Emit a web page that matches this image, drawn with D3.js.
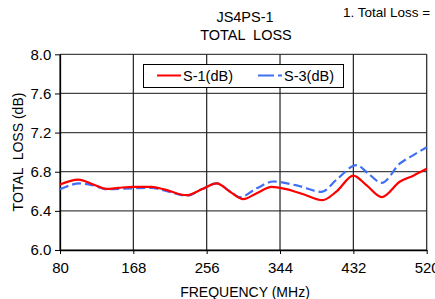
<!DOCTYPE html>
<html><head><meta charset="utf-8">
<script src="https://cdn.jsdelivr.net/npm/d3@7"></script>
<style>body{margin:0;background:#fff;overflow:hidden}svg{display:block}text{font-family:"Liberation Sans",Arial,sans-serif;fill:#000}</style>
</head><body>
<svg id="c" width="435" height="299"></svg>
<script>
const xTicks = [80, 168, 256, 344, 432, 520];
const yTicks = [6.0, 6.4, 6.8, 7.2, 7.6, 8.0];
const freqS1 = [80, 102, 120, 136, 150, 168, 190, 205, 232, 250, 268, 284, 300, 316, 334, 350, 372, 395, 412, 432, 448, 466, 488, 504, 520];
const lossS1 = [6.67, 6.72, 6.67, 6.625, 6.635, 6.645, 6.645, 6.62, 6.56, 6.62, 6.68, 6.595, 6.52, 6.58, 6.645, 6.625, 6.57, 6.51, 6.6, 6.76, 6.66, 6.54, 6.70, 6.76, 6.83];
const freqS3 = [80, 104, 120, 136, 150, 168, 190, 205, 232, 250, 268, 284, 296, 316, 336, 364, 394, 412, 436, 450, 466, 488, 504, 520];
const lossS3 = [6.62, 6.68, 6.66, 6.62, 6.625, 6.63, 6.635, 6.61, 6.555, 6.62, 6.68, 6.60, 6.54, 6.63, 6.70, 6.66, 6.595, 6.72, 6.867, 6.78, 6.687, 6.885, 6.97, 7.05];
const seriesNames = ["S-1(dB)", "S-3(dB)"];

const svg = d3.select("#c");
const x = d3.scaleLinear().domain([80, 520]).range([60, 426.7]);
const y = d3.scaleLinear().domain([6.0, 8.0]).range([250, 54.3]);

// gridlines
svg.append("g").selectAll("line").data(yTicks).join("line")
  .attr("x1", x(80)).attr("x2", x(520)).attr("y1", d => y(d)).attr("y2", d => y(d))
  .attr("stroke", "#444").attr("stroke-width", 1.2);
svg.append("g").selectAll("line").data(xTicks).join("line")
  .attr("y1", y(6)).attr("y2", y(8)).attr("x1", d => x(d)).attr("x2", d => x(d))
  .attr("stroke", "#222").attr("stroke-width", 1.2);

// axes
const ax = svg.append("g").attr("transform", `translate(0,${y(6)})`)
  .call(d3.axisBottom(x).tickValues(xTicks).tickFormat(d3.format("d")).tickSize(4).tickSizeOuter(0));
const ay = svg.append("g").attr("transform", `translate(${x(80)},0)`)
  .call(d3.axisLeft(y).tickValues(yTicks).tickFormat(d3.format(".1f")).tickSize(5).tickSizeOuter(0));
[ax, ay].forEach(g => {
  g.select(".domain").attr("stroke", "#000").attr("stroke-width", 1.3);
  g.selectAll(".tick line").attr("stroke", "#000");
  g.selectAll("text").attr("font-size", 15).attr("font-family", '"Liberation Sans",Arial,sans-serif');
});
ax.selectAll("text").attr("dy", "1.05em");
ay.selectAll("text").attr("dx", "-0.05em");

// lines
const line = d3.line().x(d => x(d[0])).y(d => y(d[1])).curve(d3.curveMonotoneX);
svg.append("path").datum(d3.zip(freqS3, lossS3)).attr("d", line)
  .attr("fill", "none").attr("stroke", "#3f6ff5").attr("stroke-width", 2.2).attr("stroke-dasharray", "9,4");
svg.append("path").datum(d3.zip(freqS1, lossS1)).attr("d", line)
  .attr("fill", "none").attr("stroke", "#ff0000").attr("stroke-width", 2.2);

// legend
svg.append("rect").attr("x", 143.5).attr("y", 64.5).attr("width", 200).attr("height", 23)
  .attr("fill", "#fff").attr("stroke", "#000").attr("stroke-width", 1);
svg.append("line").attr("x1", 157).attr("x2", 181).attr("y1", 75.5).attr("y2", 75.5).attr("stroke", "#ff0000").attr("stroke-width", 2);
svg.append("text").attr("x", 183).attr("y", 81).attr("font-size", 14.5).text(seriesNames[0]);
svg.append("line").attr("x1", 258).attr("x2", 282).attr("y1", 75.5).attr("y2", 75.5).attr("stroke", "#3f6ff5").attr("stroke-width", 2).attr("stroke-dasharray", "16,4");
svg.append("text").attr("x", 284).attr("y", 81).attr("font-size", 14.5).text(seriesNames[1]);

// titles
svg.append("text").attr("x", 245).attr("y", 22).attr("text-anchor", "middle").attr("font-size", 14.5).text("JS4PS-1");
svg.append("text").attr("x", 246).attr("y", 40).attr("text-anchor", "middle").attr("font-size", 14.5).attr("xml:space", "preserve").text("TOTAL  LOSS");
svg.append("text").attr("x", 343).attr("y", 17).attr("font-size", 13.5).text("1. Total Loss =");
svg.append("text").attr("x", 245).attr("y", 297).attr("text-anchor", "middle").attr("font-size", 14).text("FREQUENCY (MHz)");
svg.append("text").attr("transform", "translate(23,152) rotate(-90)").attr("text-anchor", "middle").attr("font-size", 14).attr("xml:space", "preserve").text("TOTAL  LOSS (dB)");
</script>
</body></html>
